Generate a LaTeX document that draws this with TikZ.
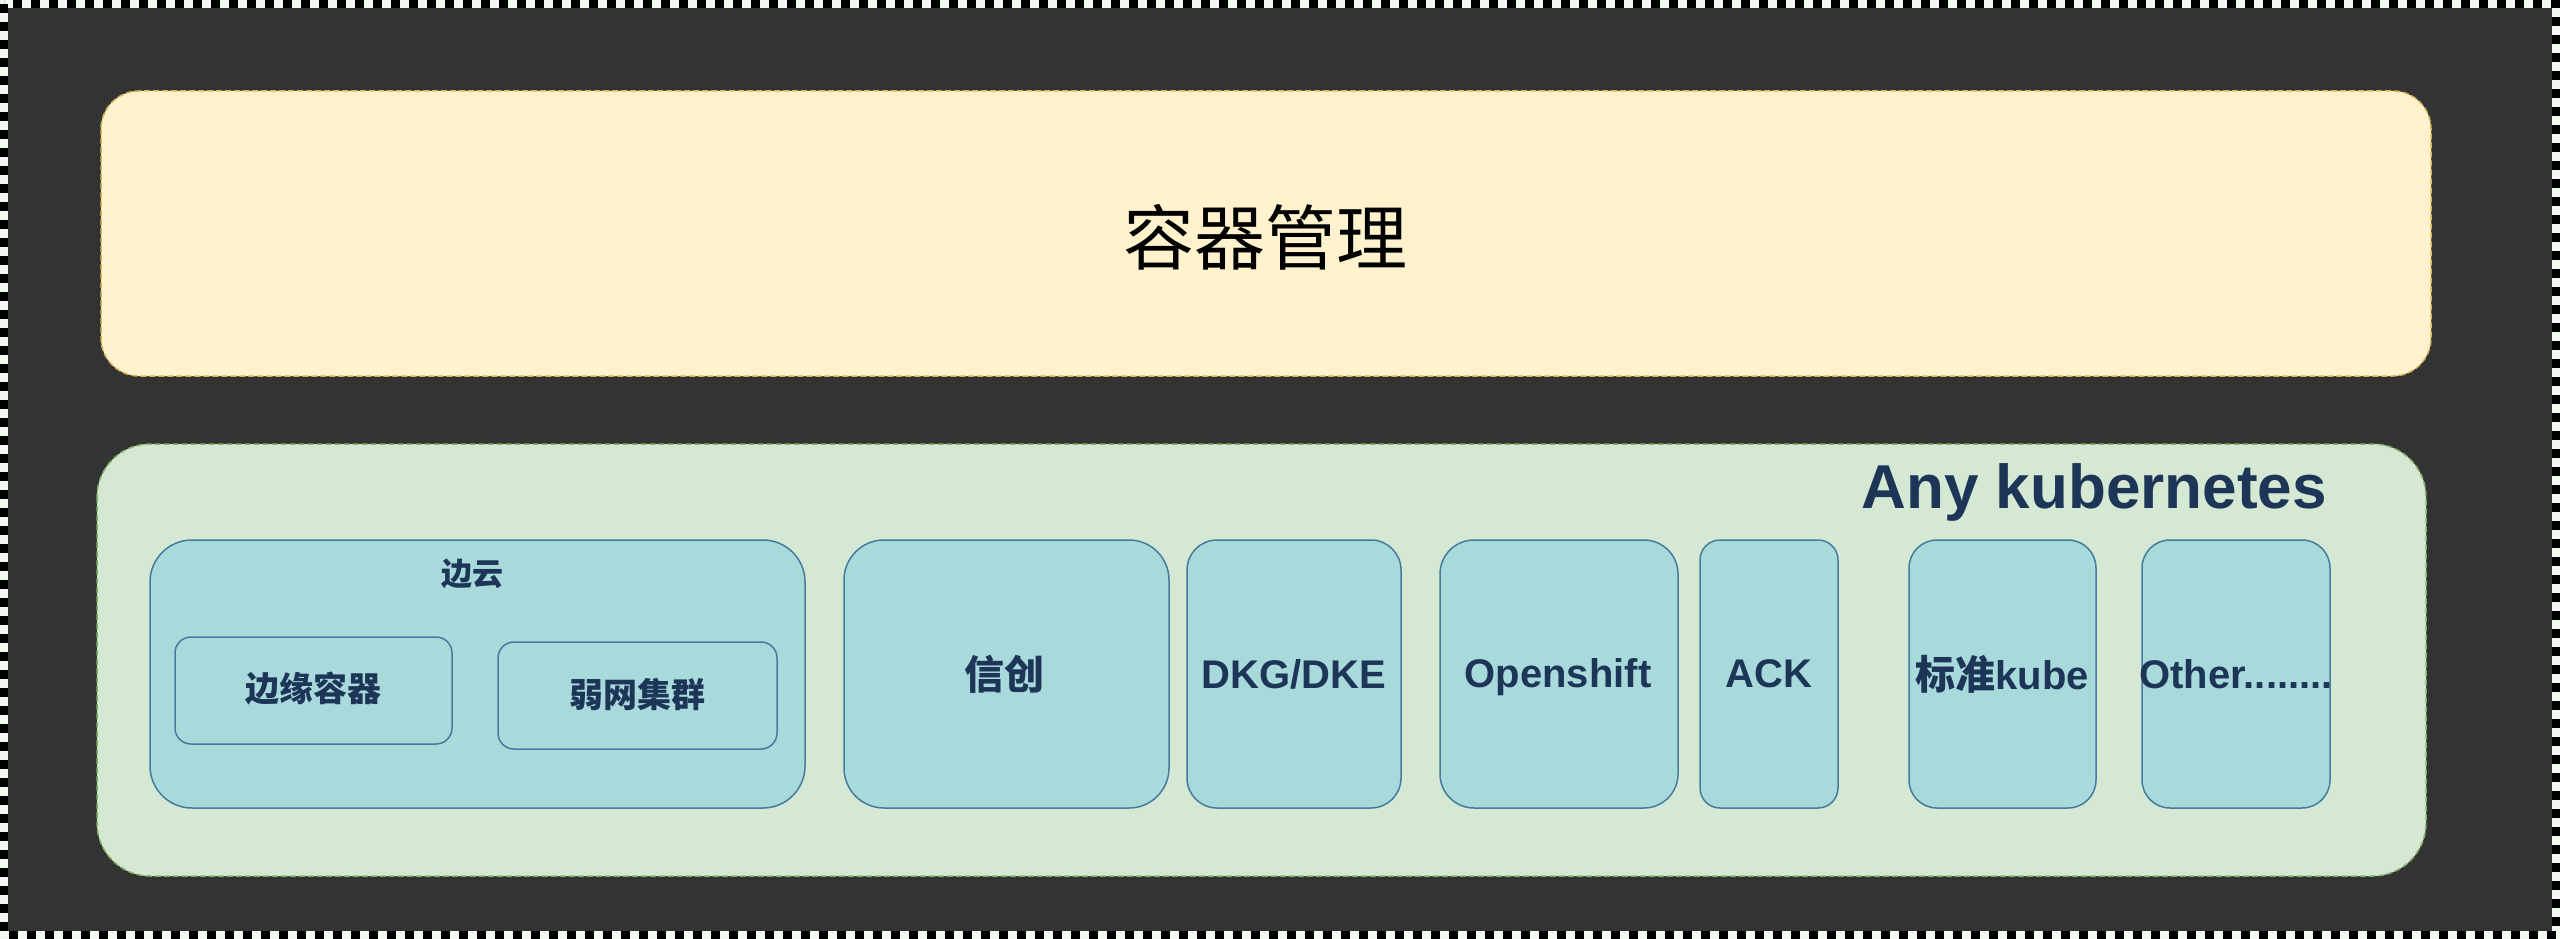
\documentclass[tikz,border=0pt]{standalone}
\usepackage{fontspec}
\setmainfont{Liberation Sans}
\newfontfamily\cjk{Noto Sans CJK SC}
\definecolor{bgdark}{HTML}{333333}
\definecolor{yfill}{HTML}{FFF2CC}
\definecolor{ydraw}{HTML}{D6B656}
\definecolor{gfill}{HTML}{D5E8D4}
\definecolor{gdraw}{HTML}{82B366}
\definecolor{tfill}{HTML}{A8DADC}
\definecolor{tdraw}{HTML}{457B9D}
\definecolor{navy}{HTML}{1D3557}
\definecolor{paleborder}{HTML}{F0F8F0}
\tikzset{
  tealbox/.style={draw=tdraw, fill=tfill, line width=1.5pt},
  lbl/.style={text=navy, font=\bfseries\fontsize{40}{46}\selectfont, inner sep=0pt},
  clbl/.style={text=navy, font=\cjk\bfseries\fontsize{40}{46}\selectfont, inner sep=0pt},
}
\begin{document}
\begin{tikzpicture}[x=1pt,y=-1pt]
\useasboundingbox (0,0) rectangle (2560,939);
\fill[bgdark] (0,0) rectangle (2560,939);
\draw[paleborder, line width=8pt] (4,4) rectangle (2556,935);
\draw[black, line width=8pt, dash pattern=on 9pt off 9pt] (4,4) rectangle (2556,935);
% top box
\draw[fill=yfill, draw=ydraw, line width=1.5pt, dash pattern=on 6pt off 3pt, rounded corners=38pt] (101,91) rectangle (2431,376);
\node[font=\cjk\fontsize{71}{80}\selectfont, inner sep=0pt] (mgmt) at (1265,237) {容器管理};
% bottom box
\draw[fill=gfill, draw=gdraw, line width=1.5pt, dash pattern=on 6pt off 3pt, rounded corners=53pt] (97,444) rectangle (2426,876);
\node[text=navy, font=\bfseries\fontsize{62}{70}\selectfont, anchor=base east, inner sep=0pt] (anyk) at (2327,508) {Any kubernetes};
% edge-cloud group
\draw[tealbox, rounded corners=42pt] (150,540) rectangle (805,808);
\node[clbl, font=\cjk\bfseries\fontsize{31}{36}\selectfont] (biany) at (472,574) {边云};
\draw[tealbox, rounded corners=16pt] (175,637) rectangle (452,744);
\node[clbl, font=\cjk\bfseries\fontsize{34}{40}\selectfont] (edgec) at (313,689) {边缘容器};
\draw[tealbox, rounded corners=16pt] (498,642) rectangle (777,749);
\node[clbl, font=\cjk\bfseries\fontsize{34}{40}\selectfont] (weak) at (637,694) {弱网集群};
% columns
\draw[tealbox, rounded corners=40pt] (844,540) rectangle (1169,808);
\node[clbl] (xc) at (1004,674) {信创};
\draw[tealbox, rounded corners=30pt] (1187,540) rectangle (1401,808);
\node[lbl] (dkg) at (1294,674) {DKG/DKE};
\draw[tealbox, rounded corners=34pt] (1440,540) rectangle (1678,808);
\node[lbl, anchor=base] (os) at (1558,687) {Openshift};
\draw[tealbox, rounded corners=20pt] (1700,540) rectangle (1838,808);
\node[lbl] (ack) at (1769,674) {ACK};
\draw[tealbox, rounded corners=28pt] (1909,540) rectangle (2096,808);
\node[lbl] (std) at (2002,674) {{\cjk\bfseries 标准}kube};
\draw[tealbox, rounded corners=28pt] (2142,540) rectangle (2330,808);
\node[lbl] (oth) at (2236,674) {Other........};
\end{tikzpicture}
\end{document}
